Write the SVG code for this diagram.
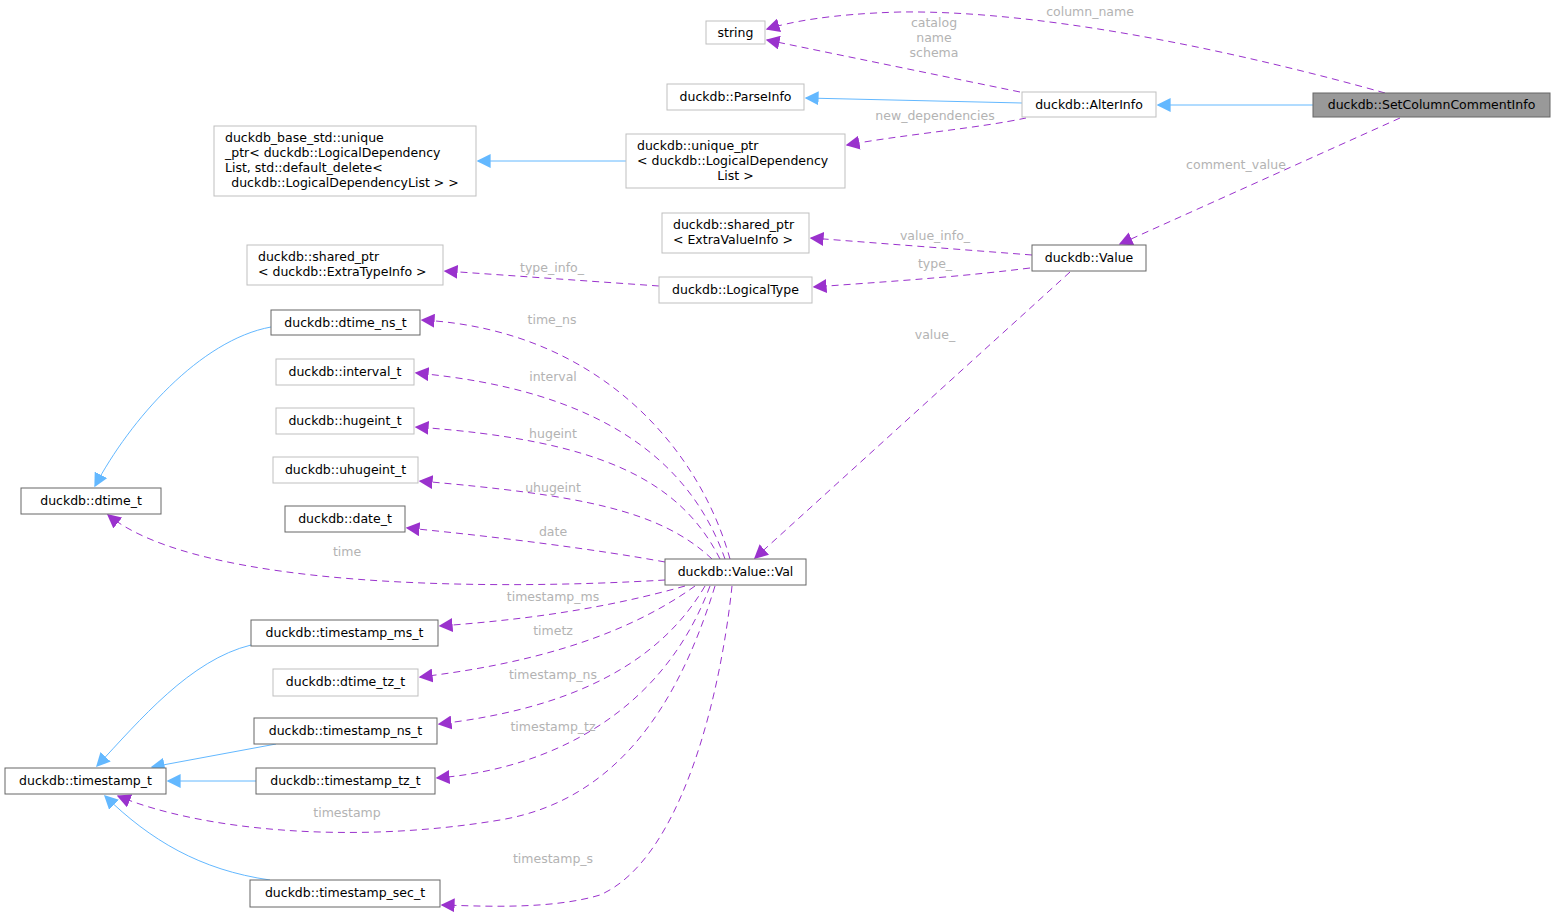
<svg xmlns="http://www.w3.org/2000/svg" width="1556" height="913" viewBox="0 0 1556 913">
<style>
text{font-family:"DejaVu Sans",sans-serif;font-size:12.5px;fill:#000;text-anchor:middle}
.lb{fill:#b3b3b3}
.n{fill:#fff;stroke:#bfbfbf}
.d{fill:#fff;stroke:#666}
.p{fill:none;stroke:#9a32cd;stroke-dasharray:7,5;marker-end:url(#ap)}
.b{fill:none;stroke:#63b8ff;marker-end:url(#ab)}
</style>
<defs>
<marker id="ap" viewBox="0 0 10 10" refX="9" refY="5" markerWidth="14" markerHeight="14" markerUnits="userSpaceOnUse" orient="auto"><path d="M0,0 L10,5 L0,10 z" fill="#9a32cd"/></marker>
<marker id="ab" viewBox="0 0 10 10" refX="9" refY="5" markerWidth="14" markerHeight="14" markerUnits="userSpaceOnUse" orient="auto"><path d="M0,0 L10,5 L0,10 z" fill="#63b8ff"/></marker>
</defs>
<rect width="1556" height="913" fill="#fff"/>
<g id="edges">
<path class="p" d="M1385,93 C1250,55 1050,10 900,12 C830,14 790,22 767,29"/>
<path class="p" d="M1020,92 L767,40"/>
<path class="b" d="M1022,103 L806,98"/>
<path class="b" d="M1313,105 L1158,105"/>
<path class="p" d="M1026,118 C980,128 900,135 847,145"/>
<path class="b" d="M626,161 L478,161"/>
<path class="p" d="M1400,118 L1120,244"/>
<path class="p" d="M1032,255 L811,238"/>
<path class="p" d="M1030,268 C950,278 880,282 814,287"/>
<path class="p" d="M659,286 L445,271"/>
<path class="p" d="M1070,272 L755,558"/>
<path class="p" d="M730,559 C700,450 600,330 422,320"/>
<path class="p" d="M725,559 C690,460 600,390 416,373"/>
<path class="p" d="M720,559 C680,480 600,440 416,427"/>
<path class="p" d="M712,559 C660,510 580,495 420,481"/>
<path class="p" d="M665,562 C600,550 500,537 407,528"/>
<path class="p" d="M665,580 C500,590 200,590 108,515"/>
<path class="p" d="M685,586 C600,610 520,620 440,626"/>
<path class="p" d="M695,586 C620,640 520,665 420,677"/>
<path class="p" d="M705,586 C650,680 540,712 439,724"/>
<path class="p" d="M710,586 C660,720 540,770 437,778"/>
<path class="p" d="M715,586 C680,700 620,800 500,820 C350,845 200,830 118,796"/>
<path class="p" d="M732,586 C720,700 680,860 600,895 C550,910 480,906 442,905"/>
<path class="b" d="M271,327 C200,340 130,420 95,486"/>
<path class="b" d="M251,645 C190,660 140,720 97,766"/>
<path class="b" d="M276,744 L152,767"/>
<path class="b" d="M256,781 L168,781"/>
<path class="b" d="M270,880 C200,870 150,840 105,796"/>
</g>
<g class="lb">
<text class="lb" x="1090" y="16">column_name</text>
<text class="lb" x="934" y="27">catalog</text>
<text class="lb" x="934" y="42">name</text>
<text class="lb" x="934" y="57">schema</text>
<text class="lb" x="935" y="120">new_dependencies</text>
<text class="lb" x="1236" y="169">comment_value</text>
<text class="lb" x="935" y="240">value_info_</text>
<text class="lb" x="935" y="268">type_</text>
<text class="lb" x="552" y="272">type_info_</text>
<text class="lb" x="935" y="339">value_</text>
<text class="lb" x="552" y="324">time_ns</text>
<text class="lb" x="553" y="381">interval</text>
<text class="lb" x="553" y="438">hugeint</text>
<text class="lb" x="553" y="492">uhugeint</text>
<text class="lb" x="553" y="536">date</text>
<text class="lb" x="347" y="556">time</text>
<text class="lb" x="553" y="601">timestamp_ms</text>
<text class="lb" x="553" y="635">timetz</text>
<text class="lb" x="553" y="679">timestamp_ns</text>
<text class="lb" x="553" y="731">timestamp_tz</text>
<text class="lb" x="347" y="817">timestamp</text>
<text class="lb" x="553" y="863">timestamp_s</text>
</g>
<g id="string"><rect class="n" x="706" y="21" width="59" height="23"/><text x="735.5" y="37">string</text></g>
<g id="scci"><rect x="1313" y="93" width="237" height="24" fill="#999" stroke="#666"/><text x="1431.5" y="109">duckdb::SetColumnCommentInfo</text></g>
<g id="alterinfo"><rect class="n" x="1022" y="92" width="134" height="25"/><text x="1089" y="109">duckdb::AlterInfo</text></g>
<g id="parseinfo"><rect class="n" x="667" y="84" width="137" height="26"/><text x="735.5" y="101">duckdb::ParseInfo</text></g>
<g id="uptr"><rect class="n" x="626" y="134" width="219" height="54"/><text x="637" y="150" style="text-anchor:start">duckdb::unique_ptr</text><text x="637" y="165" style="text-anchor:start">&lt; duckdb::LogicalDependency</text><text x="735.5" y="180">List &gt;</text></g>
<g id="basestd"><rect class="n" x="214" y="126" width="262" height="70"/><text x="225" y="142" style="text-anchor:start">duckdb_base_std::unique</text><text x="225" y="157" style="text-anchor:start">_ptr&lt; duckdb::LogicalDependency</text><text x="225" y="172" style="text-anchor:start">List, std::default_delete&lt;</text><text x="345" y="187">duckdb::LogicalDependencyList &gt; &gt;</text></g>
<g id="sevi"><rect class="n" x="662" y="213" width="147" height="40"/><text x="673" y="229" style="text-anchor:start">duckdb::shared_ptr</text><text x="673" y="244" style="text-anchor:start">&lt; ExtraValueInfo &gt;</text></g>
<g id="value"><rect class="d" x="1032" y="245" width="114" height="26"/><text x="1089" y="262">duckdb::Value</text></g>
<g id="seti"><rect class="n" x="247" y="245" width="196" height="40"/><text x="258" y="261" style="text-anchor:start">duckdb::shared_ptr</text><text x="258" y="276" style="text-anchor:start">&lt; duckdb::ExtraTypeInfo &gt;</text></g>
<g id="logicaltype"><rect class="n" x="659" y="277" width="153" height="26"/><text x="735.5" y="294">duckdb::LogicalType</text></g>
<g id="dtimens"><rect class="d" x="271" y="310" width="149" height="25"/><text x="345.5" y="327">duckdb::dtime_ns_t</text></g>
<g id="interval"><rect class="n" x="276" y="359" width="138" height="26"/><text x="345" y="376">duckdb::interval_t</text></g>
<g id="hugeint"><rect class="n" x="276" y="408" width="138" height="26"/><text x="345" y="425">duckdb::hugeint_t</text></g>
<g id="uhugeint"><rect class="n" x="273" y="457" width="145" height="26"/><text x="345.5" y="474">duckdb::uhugeint_t</text></g>
<g id="date"><rect class="d" x="285" y="506" width="120" height="26"/><text x="345" y="523">duckdb::date_t</text></g>
<g id="dtime"><rect class="d" x="21" y="488" width="140" height="26"/><text x="91" y="505">duckdb::dtime_t</text></g>
<g id="val"><rect class="d" x="665" y="559" width="141" height="26"/><text x="735.5" y="576">duckdb::Value::Val</text></g>
<g id="tsms"><rect class="d" x="251" y="620" width="187" height="26"/><text x="344.5" y="637">duckdb::timestamp_ms_t</text></g>
<g id="dtimetz"><rect class="n" x="273" y="669" width="145" height="27"/><text x="345.5" y="686">duckdb::dtime_tz_t</text></g>
<g id="tsns"><rect class="d" x="254" y="718" width="183" height="26"/><text x="345.5" y="735">duckdb::timestamp_ns_t</text></g>
<g id="tstz"><rect class="d" x="256" y="768" width="179" height="26"/><text x="345.5" y="785">duckdb::timestamp_tz_t</text></g>
<g id="ts"><rect class="d" x="5" y="768" width="161" height="26"/><text x="85.5" y="785">duckdb::timestamp_t</text></g>
<g id="tssec"><rect class="d" x="250" y="880" width="190" height="27"/><text x="345" y="897">duckdb::timestamp_sec_t</text></g>
</svg>
